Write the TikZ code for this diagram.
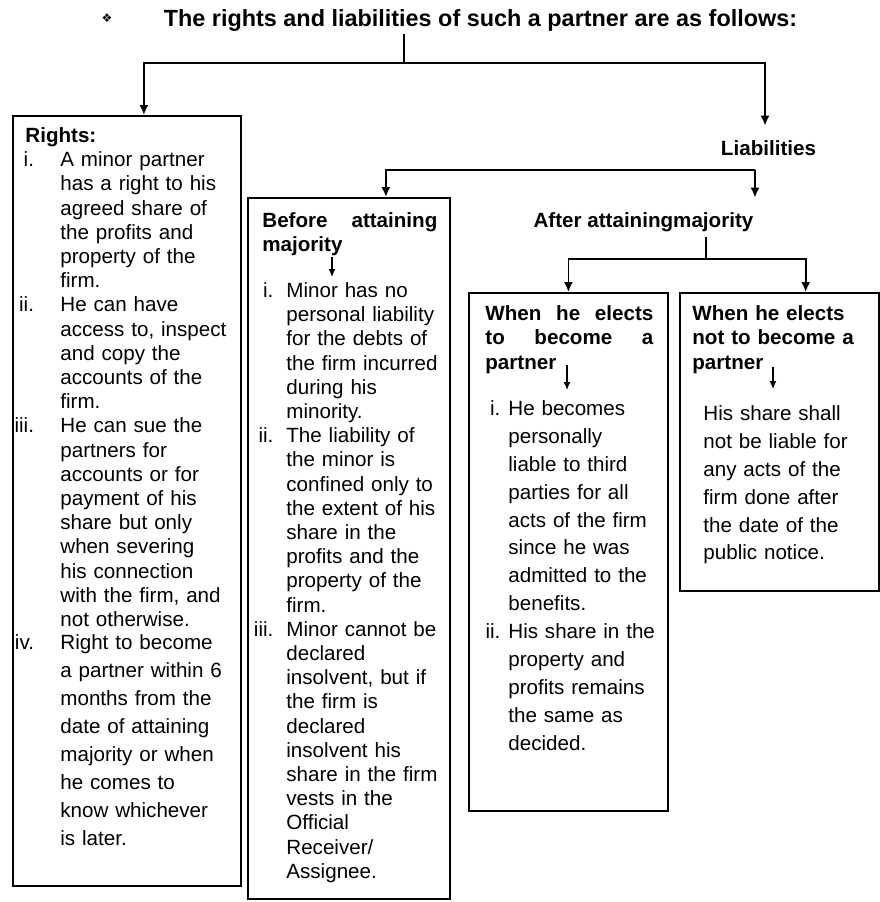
\documentclass[tikz,border=0pt]{standalone}
\usepackage{fontspec}
\setmainfont{Liberation Sans}
\newfontfamily\dingf{DejaVu Sans}
\usepackage{xcolor}
\usepackage{tikz}
\usetikzlibrary{positioning,arrows.meta}
\newlength{\numw}
\newlength{\hangw}
\newcommand{\itm}[2]{\noindent\hangindent=\hangw\hangafter=1%
  \makebox[\hangw][l]{\makebox[\numw][r]{#1}}#2\par}
\tikzset{
  frame/.style={draw,line width=0.9pt,anchor=north west,inner sep=0pt},
  body/.style={anchor=base west,inner sep=0pt,align=left,
    font=\fontsize{10.3}{12.1}\selectfont},
  wide/.style={body,font=\fontsize{10.3}{13.95}\selectfont},
  hd/.style={body,font=\fontsize{10.3}{12.25}\selectfont\bfseries},
  lbl/.style={anchor=base,inner sep=2pt,text height=12.7pt,text depth=2.8pt,
    font=\fontsize{10.3}{12}\selectfont\bfseries},
  ln/.style={draw,line width=0.9pt},
  fl/.style={ln,-{Latex[length=5pt,width=4.5pt]}},
  sfl/.style={draw,line width=0.6pt,-{Latex[length=4pt,width=3.5pt]}},
}
\begin{document}
\begin{tikzpicture}[x=1pt,y=-1pt]
  \useasboundingbox (0,0) rectangle (440,451);
  \node[font=\dingf\fontsize{6}{7}\selectfont,inner sep=0pt] (bul) at (53.5,9.3) {❖};
  \node[anchor=base,inner sep=1pt,font=\fontsize{11.7}{14}\selectfont\bfseries] (ttl) at (240.25,13.4)
    {The rights and liabilities of such a partner are as follows:};
  \node[frame,minimum width=114pt,minimum height=385pt] (rights) at (6,57.5) {};
  \node[frame,minimum width=101pt,minimum height=350.5pt] (bef) at (123.5,98.5) {};
  \node[frame,minimum width=99.5pt,minimum height=259pt] (el) at (234,146) {};
  \node[frame,minimum width=99.5pt,minimum height=149pt,right=5pt of el.north east,anchor=north west] (nel) {};
  \node[lbl] (liab) at (384.25,77.7) {Liabilities};
  \node[lbl] (aft) at (321.75,113.7) {After attainingmajority};
  \node[body,text width=106pt] (rtx) at (12.5,71.2) {\setlength{\numw}{4.3pt}\setlength{\hangw}{17.5pt}%
    \textbf{Rights:}\par
    \itm{i.}{A minor partner\newline has a right to his\newline agreed share of\newline the profits and\newline property of the\newline firm.}%
    \itm{ii.}{He can have\newline access to, inspect\newline and copy the\newline accounts of the\newline firm.}%
    \itm{iii.}{He can sue the\newline partners for\newline accounts or for\newline payment of his\newline share but only\newline when severing\newline his connection\newline with the firm, and\newline not otherwise.}%
    \vspace{-2.2pt}\fontsize{10.3}{13.95}\selectfont
    \itm{iv.}{Right to become\newline a partner within 6\newline months from the\newline date of attaining\newline majority or when\newline he comes to\newline know whichever\newline is later.}};
  \node[hd,text width=87.5pt] (bhd) at (131,113.7) {Before\hfill attaining\newline majority};
  \node[body,text width=92pt] (btx) at (131,148.7) {\setlength{\numw}{5.5pt}\setlength{\hangw}{12pt}%
    \itm{i.}{Minor has no\newline personal liability\newline for the debts of\newline the firm incurred\newline during his\newline minority.}%
    \itm{ii.}{The liability of\newline the minor is\newline confined only to\newline the extent of his\newline share in the\newline profits and the\newline property of the\newline firm.}%
    \itm{iii.}{Minor cannot be\newline declared\newline insolvent, but if\newline the firm is\newline declared\newline insolvent his\newline share in the firm\newline vests in the\newline Official\newline Receiver/\newline Assignee.}};
  \node[hd,text width=84pt] (ehd) at (242.5,160.2) {When\hfill he\hfill elects\newline to\hfill become\hfill a\newline partner};
  \node[wide,text width=88pt] (etx) at (242.5,207.7) {\setlength{\numw}{7.5pt}\setlength{\hangw}{11.5pt}%
    \itm{i.}{He becomes\newline personally\newline liable to third\newline parties for all\newline acts of the firm\newline since he was\newline admitted to the\newline benefits.}%
    \itm{ii.}{His share in the\newline property and\newline profits remains\newline the same as\newline decided.}};
  \node[hd,text width=90pt] (nhd) at (346,160.2) {When he elects\newline not to become a\newline partner};
  \node[wide,text width=82pt] (ntx) at (351.5,210.2) {His share shall\newline not be liable for\newline any acts of the\newline firm done after\newline the date of the\newline public notice.};
  \coordinate (tj) at (202,31.5);
  \coordinate (lj) at (377.5,85);
  \coordinate (aj) at (353,129.5);
  \draw[ln] (ttl.south -| tj) -- (tj);
  \draw[fl] (tj) -| ([xshift=8.5pt]rights.north);
  \draw[fl] (tj) -| ([xshift=-1.75pt]liab.north);
  \draw[fl] (lj) -| ([xshift=18.5pt]bef.north);
  \draw[fl] (lj) -- (lj |- aft.north);
  \draw[ln] (aft.south -| aj) -- (aj);
  \draw[fl] (aj) -| (el.north);
  \draw[fl] (aj) -| ([xshift=13.25pt]nel.north);
  \coordinate (ba1) at (166,128.5); \coordinate (ba2) at (166,138.5);
  \coordinate (ea1) at (283.5,182.5); \coordinate (ea2) at (283.5,195);
  \coordinate (na1) at (386.5,183.5); \coordinate (na2) at (386.5,194.5);
  \draw[sfl] (ba1) -- (ba2);
  \draw[sfl] (ea1) -- (ea2);
  \draw[sfl] (na1) -- (na2);
\end{tikzpicture}
\end{document}
